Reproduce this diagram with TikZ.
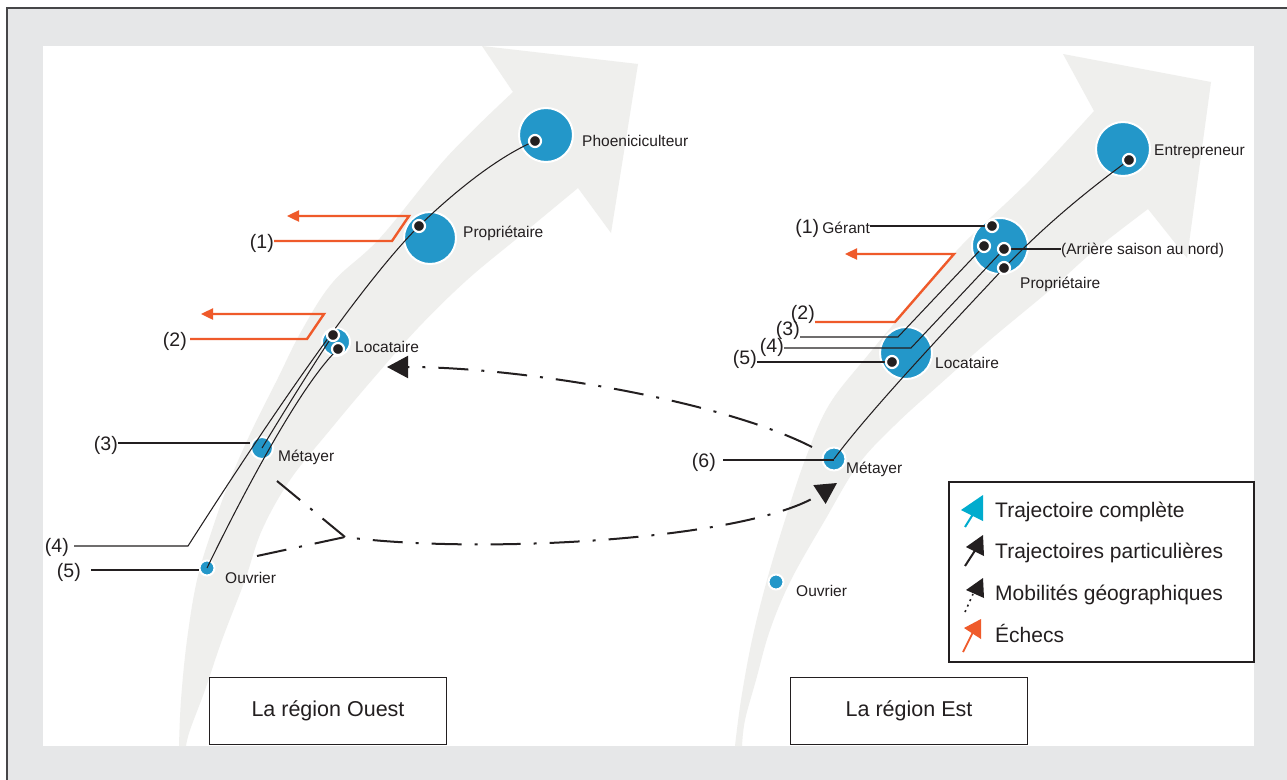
\documentclass[tikz,border=0pt]{standalone}
\usepackage{fontspec}
\setmainfont{Liberation Sans}
\usetikzlibrary{arrows.meta}
\definecolor{bgray}{RGB}{230,231,232}
\definecolor{band}{RGB}{239,239,237}
\definecolor{cblue}{RGB}{35,151,201}
\definecolor{corange}{RGB}{239,90,42}
\definecolor{ccyan}{RGB}{0,172,206}
\definecolor{ink}{RGB}{35,31,32}
\definecolor{frame}{RGB}{70,70,72}
\begin{document}
\begin{tikzpicture}[x=1pt,y=-1pt,
  bub/.style={circle,fill=cblue,draw=white,line width=2pt,inner sep=0pt},
  tdot/.style={circle,fill=ink,draw=white,line width=2.2pt,inner sep=0pt,minimum size=12pt},
  lbl/.style={font=\fontsize{15.5}{16}\selectfont,text=ink,inner sep=0pt,anchor=west,text height=11.2pt,text depth=0pt},
  num/.style={font=\fontsize{19.5}{20}\selectfont,text=ink,inner sep=0pt,anchor=east,text height=14pt,text depth=0pt},
  leg/.style={font=\fontsize{21}{22}\selectfont,text=ink,inner sep=0pt,anchor=west,text height=15pt,text depth=0pt},
  region/.style={draw=ink,line width=1.2pt,fill=white,minimum width=237pt,minimum height=67pt,inner sep=0pt,font=\fontsize{21.5}{22}\selectfont,text=ink},
  traj/.style={draw=ink,line width=1.05pt},
  fail/.style={draw=corange,line width=2.4pt,miter limit=10,-{Triangle[length=12pt,width=11pt]}},
  mob/.style={draw=ink,line width=2pt,dash pattern=on 30pt off 13pt on 3pt off 13pt,-{Triangle[length=21pt,width=22pt]}},
  mobx/.style={draw=ink,line width=2pt,dash pattern=on 30pt off 13pt on 3pt off 13pt}]
\useasboundingbox (0,0) rectangle (1287,779);
\clip (0,0) rectangle (1287,779);
% background
\fill[white] (0,0) rectangle (1287,779);
\fill[bgray] (7,8) rectangle (1300,790);
\draw[frame,line width=1.6pt] (7,790) -- (7,8) -- (1300,8);
\fill[white] (43,46) rectangle (1254,746);
% left band
\fill[band] (179,746) -- plot[smooth,tension=0.6] coordinates {(179,746)(181,700)(187,640)(197,580)(212,530)(230,480)(252,430)(277,380)(302,330)(333,282)(380,238)(447,157)(513,92)}
  -- (482,46) -- (638,64) -- (611,233) --
  plot[smooth,tension=0.6] coordinates {(578,188)(520,236)(467,280)(418,328)(372,380)(330,430)(290,480)(262,530)(245,580)(222,640)(205,690)(190,730)(186,746)} -- cycle;
% right band
\fill[band] (735,746) -- plot[smooth,tension=0.6] coordinates {(735,746)(741,700)(752,640)(767,580)(785,520)(805,460)(829,405)(868,355)(914,300)(961,246)(1030,180)(1094,111)}
  -- (1063,54) -- (1211,82) -- (1187,258) --
  plot[smooth,tension=0.6] coordinates {(1148,209)(1095,250)(1050,290)(990,340)(939,385)(895,425)(858,465)(825,520)(791,580)(770,630)(756,680)(745,720)(742,746)} -- cycle;
% circles
\node[bub,minimum size=54pt] (phoen) at (546,135) {};
\node[bub,minimum size=52pt] (propl) at (430,238) {};
\node[bub,minimum size=28pt] (locl) at (336,342) {};
\node[bub,minimum size=22pt] (metl) at (262,448) {};
\node[bub,minimum size=15pt] (ouvl) at (207,568) {};
\node[bub,minimum size=54pt] (entr) at (1123,149) {};
\node[bub,minimum size=56pt] (propr) at (1000,246) {};
\node[bub,minimum size=52pt] (locr) at (906,353) {};
\node[bub,minimum size=23pt] (metr) at (834,459) {};
\node[bub,minimum size=15pt] (ouvr) at (776,582) {};
% dot positions
\coordinate (phd) at (535,141);
\coordinate (pd) at (419,226);
\coordinate (ld1) at (333,335);
\coordinate (ld2) at (338,349);
\coordinate (ed) at (1129,160);
\coordinate (g1) at (992,226);
\coordinate (g3) at (984,246);
\coordinate (g4) at (1004,249);
\coordinate (g6) at (1004,268);
\coordinate (lrd) at (892,362);
% number labels
\node[num] (n1l) at (274,241) {(1)};
\node[num] (n2l) at (187,339) {(2)};
\node[num] (n3l) at (118,443) {(3)};
\node[num] (n4l) at (69,545) {(4)};
\node[num] (n5l) at (81,570) {(5)};
\node[num] (n2r) at (815,312) {(2)};
\node[num] (n3r) at (800,328) {(3)};
\node[num] (n4r) at (784,345) {(4)};
\node[num] (n5r) at (757,357) {(5)};
\node[num] (n6r) at (716,460) {(6)};
\node[num] (ger) at (870,226) {(1)\,{\fontsize{15.5}{16}\selectfont Gérant}};
% mobility (dash-dot)
\coordinate (m1) at (812,447);
\coordinate (t1) at (387,367);
\coordinate (a1) at (277,481);
\coordinate (a2) at (257,556);
\coordinate (vx) at (345,537);
\coordinate (t2) at (837,483);
\draw[mob] (m1) .. controls (720,400) and (520,367) .. (t1);
\draw[mobx] (a1) -- (vx);
\draw[mob] (a2) -- (vx) .. controls (480,555) and (750,540) .. (t2);
% trajectories left
\coordinate (c4) at (188,546);
\draw[traj] ([xshift=5pt]n4l.east |- c4) -- (c4) .. controls (262,430) and (360,285) .. (pd) .. controls (450,196) and (495,158) .. (phd);
\draw[traj] (n3l.east) -- (n3l.east -| metl.west);
\draw[traj] (metl.center) .. controls (285,410) and (310,370) .. (ld1);
\draw[traj] ([xshift=10pt]n5l.east) -- (ouvl.west |- n5l.east);
\draw[traj] (ouvl.center) .. controls (240,500) and (300,385) .. (ld2);
% trajectories right
\coordinate (c3r) at (898,337);
\coordinate (c4r) at (911,348);
\draw[traj] (n3r.east |- c3r) -- (c3r) -- (g3);
\draw[traj] (n4r.east |- c4r) -- (c4r) -- (g4);
\draw[traj] (n5r.east |- lrd) -- (lrd);
\draw[traj] ([xshift=7pt]n6r.east) -- (metr.center |- n6r.east);
\draw[traj] (metr.center) .. controls (870,410) and (960,315) .. (g6) .. controls (1050,220) and (1095,185) .. (ed);
\draw[traj] (ger.east) -- (g1);
\node[lbl] (arr) at (1061,249) {(Arrière saison au nord)};
\draw[traj] (g4) -- (arr.west);
% failures
\coordinate (o1a) at (392,241);
\coordinate (o1b) at (409,216);
\coordinate (o1t) at (287,216);
\draw[fail] (n1l.east) -- (o1a) -- (o1b) -- (o1t);
\coordinate (o2a) at (307,339);
\coordinate (o2b) at (324,314);
\coordinate (o2t) at (201,314);
\draw[fail] ([xshift=3pt]n2l.east) -- (o2a) -- (o2b) -- (o2t);
\coordinate (o3a) at (895,322);
\coordinate (o3b) at (954,254);
\coordinate (o3t) at (845,254);
\draw[fail] (n2r.east |- o3a) -- (o3a) -- (o3b) -- (o3t);
% dots
\foreach \d in {phd,pd,ld1,ld2,ed,g1,g3,g4,g6,lrd} \node[tdot] at (\d) {};
% labels
\node[lbl] (lphoen) at (582,141) {Phoeniciculteur};
\node[lbl] (lpropl) at (463,232) {Propriétaire};
\node[lbl] (llocl) at (355,347) {Locataire};
\node[lbl] (lmetl) at (278,456) {Métayer};
\node[lbl] (louvl) at (225,578) {Ouvrier};
\node[lbl] (lentr) at (1154,150) {Entrepreneur};
\node[lbl] (lpropr) at (1020,283) {Propriétaire};
\node[lbl] (llocr) at (935,363) {Locataire};
\node[lbl] (lmetr) at (846,468) {Métayer};
\node[lbl] (louvr) at (796,591) {Ouvrier};
% legend
\draw[ink,line width=1.3pt,fill=white] (949,482) rectangle (1254,662);
\fill[ccyan] (983,495) -- (983,521) -- (961,510) -- cycle;
\draw[ccyan,line width=2pt] (965,527) -- (975,511);
\fill[ink] (983,535) -- (984,556) -- (966,547) -- cycle;
\draw[ink,line width=2pt] (965,566) -- (976,549);
\fill[ink] (983,578) -- (984,598) -- (966,590) -- cycle;
\draw[ink,line width=1.6pt,dash pattern=on 2pt off 4pt] (965,612) -- (973,594);
\fill[corange] (981,619) -- (981,639) -- (964,628) -- cycle;
\draw[corange,line width=1.8pt] (963,652) -- (974,630);
\node[leg] (lg1) at (995,510) {Trajectoire complète};
\node[leg] (lg2) at (995,551) {Trajectoires particulières};
\node[leg] (lg3) at (995,593) {Mobilités géographiques};
\node[leg] (lg4) at (995,635) {Échecs};
% region boxes
\node[region] (rouest) at (328,711) {La région Ouest};
\node[region] (rest) at (909,711) {La région Est};
\end{tikzpicture}
\end{document}
